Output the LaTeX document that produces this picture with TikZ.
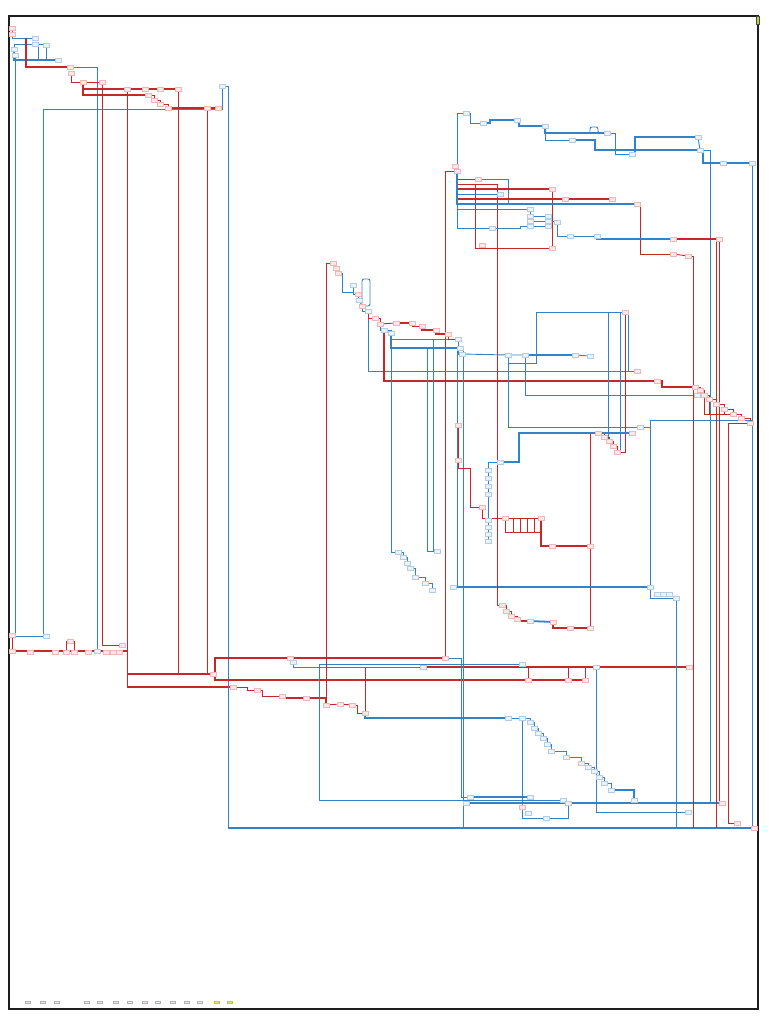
\documentclass[tikz,border=0pt]{standalone}
\usetikzlibrary{backgrounds}
\definecolor{cgred}{HTML}{C62828}
\definecolor{cgblue}{HTML}{3282C8}
\definecolor{cgpink}{HTML}{FBE8E8}
\definecolor{cgpinkd}{HTML}{EDB8B8}
\definecolor{cgsky}{HTML}{EAF2FA}
\definecolor{cgskyd}{HTML}{B3CDE8}
\definecolor{cgframe}{HTML}{1E1E1E}
\definecolor{cgflag}{HTML}{B5D334}
\definecolor{cgyellow}{HTML}{F2E66B}
\tikzset{
  rn/.style={draw=cgpinkd,fill=cgpink,line width=0.3pt,minimum width=6pt,
             minimum height=4pt,inner sep=0pt},
  bn/.style={draw=cgskyd,fill=cgsky,line width=0.3pt,minimum width=6pt,
             minimum height=4pt,inner sep=0pt},
  rl/.style={draw=cgred,line width=0.9pt},
  rlt/.style={rl,line width=1.8pt},
  bl/.style={draw=cgblue,line width=0.9pt},
  blt/.style={bl,line width=1.8pt},
  legbox/.style={draw=black!30,line width=0.2pt,minimum width=5pt,
                 minimum height=2.5pt,inner sep=0pt},
}
\begin{document}
\begin{tikzpicture}[x=1pt,y=-1pt]
  \useasboundingbox (0,0) rectangle (768,1024);
  \draw[cgframe,line width=1.3pt] (9,16) rectangle (758,1009);
  \node[draw=black!70,fill=cgflag,minimum width=3pt,minimum height=8pt,
        inner sep=0pt] (flag) at (758,20) {};

  % top-left cluster
  \node[rn] (tl1) at (12,28) {};
  \node[rn] (tl2) at (12,34) {};
  \node[bn] (tl3) at (35,38) {};
  \node[bn] (tl4) at (35,44) {};
  \node[bn] (tl5) at (46,45) {};
  \node[bn] (tl6) at (58,60) {};
  \node[bn] (tl7) at (14,49) {};
  \node[bn] (tl8) at (15,55) {};
  \node[rn] (tl9) at (70,67) {};
  \node[rn] (tl10) at (71,73) {};
  \node[rn] (tl11) at (83,82) {};
  \node[rn] (tl12) at (102,82) {};
  \node[rn] (tl13) at (127,89) {};
  \node[rn] (tl14) at (178,89) {};
  \node[rn] (tl15) at (148,95) {};
  \node[rn] (tl16) at (154,100) {};
  \node[rn] (tl17) at (160,104) {};
  \node[rn] (tl18) at (168,108) {};
  \node[rn] (tl19) at (207,108) {};
  \node[rn] (tl20) at (218,108) {};
  \node[bn] (tl21) at (222,86) {};
  \node[rn] (tl22) at (145,89) {};
  \node[rn] (tl23) at (160,89) {};
  \coordinate (tlr) at (26,38);
  \coordinate (tlc) at (43,109);
  \coordinate (tlx) at (228,86);

  % bottom-left end of the left columns
  \node[rn] (bl1) at (12,635) {};
  \node[bn] (blB) at (46,636) {};
  \node[rn] (blC) at (12,651) {};
  \node[bn] (blD) at (97,651) {};
  \node[rn] (bl7) at (122,645) {};
  \node[rn] (blF) at (70,641) {};
  \foreach \bx [count=\i] in {30,55,66,74,88,106,113,119}
    \node[rn] (bz-\i) at (\bx,652) {};

  % lower band
  \node[rn] (rA) at (233,687) {};
  \node[rn] (rB) at (213,674) {};
  \node[rn] (rD) at (290,658) {};
  \node[rn] (rE) at (445,658) {};
  \node[rn] (rF) at (528,680) {};
  \node[rn] (rG) at (568,680) {};
  \node[rn] (rH) at (585,680) {};
  \node[rn] (rI) at (423,667) {};
  \node[rn] (rJ) at (689,667) {};
  \node[rn] (rK) at (365,713) {};
  \node[rn] (rs1) at (257,690) {};
  \node[rn] (rs2) at (282,696) {};
  \node[rn] (rs3) at (306,698) {};
  \node[rn] (lcA) at (326,705) {};
  \node[rn] (ls1) at (340,704) {};
  \node[rn] (ls2) at (352,705) {};
  \node[bn] (bE) at (522,664) {};
  \node[bn] (bF) at (563,800) {};
  \node[bn] (bG) at (293,662) {};
  \node[bn] (bL) at (470,797) {};
  \node[bn] (bM) at (530,797) {};
  \node[bn] (bN) at (466,803) {};
  \node[rn] (bP) at (722,803) {};
  \node[rn] (bD) at (754,828) {};
  \node[bn] (bQ) at (596,667) {};
  \node[bn] (bR) at (688,812) {};
  \foreach \x/\y [count=\i] in {508/718,522/718,530/722,534/728,538/733,
      543/738,547/744,551/751,566/757,581/763,588/767,594/771,599/777,
      604/783,611/790,634/800}
    \node[bn] (ms-\i) at (\x,\y) {};
  \node[rn] (bc1) at (522,807) {};
  \node[bn] (bc2) at (528,813) {};
  \node[bn] (bc3) at (546,818) {};
  \node[bn] (bc4) at (568,803) {};

  % middle cluster
  \node[rn] (mc0) at (333,263) {};
  \node[rn] (m1) at (336,268) {};
  \node[rn] (m2) at (338,273) {};
  \node[bn] (m3) at (353,285) {};
  \node[rn] (m4) at (358,294) {};
  \node[bn] (m5) at (359,300) {};
  \node[rn] (m6) at (362,306) {};
  \node[bn] (m7) at (368,311) {};
  \node[rn] (m8) at (375,318) {};
  \node[rn] (m9) at (380,324) {};
  \node[bn] (m10) at (384,330) {};
  \node[bn] (m11) at (391,333) {};
  \node[rn] (mt1) at (396,323) {};
  \node[rn] (mt2) at (412,323) {};
  \node[rn] (mt3) at (422,326) {};
  \node[rn] (mt4) at (436,330) {};
  \node[rn] (mt5) at (448,334) {};
  \node[bn] (mt6) at (458,339) {};
  \node[bn] (mu1) at (460,348) {};
  \node[bn] (mv1) at (462,354) {};
  \node[bn] (mv2) at (508,355) {};
  \node[bn] (mv3) at (525,355) {};
  \node[bn] (mv4) at (575,355) {};
  \node[bn] (mv5) at (590,356) {};
  \node[rn] (mr0) at (657,381) {};
  \node[rn] (mrA) at (695,387) {};
  \node[rn] (mrB) at (637,371) {};
  \node[rn] (mrF) at (625,312) {};
  \node[bn] (mrH) at (697,395) {};
  \node[bn] (mrM) at (640,427) {};
  \foreach \x/\y [count=\i] in {598/433,604/437,609/441,613/446,617/452}
    \node[rn] (rt-\i) at (\x,\y) {};
  \coordinate (j1) at (427,348);
  \coordinate (j2) at (433,339);
  \coordinate (j3) at (457,348);
  \coordinate (j5) at (463,348);
  \coordinate (j6) at (508,363);
  \coordinate (j7) at (608,313);
  \coordinate (j8) at (620,313);

  % lower middle
  \node[bn] (lcB) at (398,552) {};
  \foreach \x/\y [count=\i] in {403/557,407/563,410/568,415/577,425/583,432/590}
    \node[bn] (lb-\i) at (\x,\y) {};
  \node[bn] (lcX) at (437,551) {};
  \node[bn] (lcO) at (453,587) {};
  \node[bn] (lcP) at (650,587) {};
  \node[bn] (lcQ) at (676,598) {};
  \foreach \x [count=\i] in {657,663,669}
    \node[bn] (lq-\i) at (\x,594) {};
  \node[bn] (lcD) at (500,462) {};
  \node[rn] (lcE) at (632,433) {};
  \node[rn] (lcF) at (458,425) {};
  \node[rn] (lcG) at (458,460) {};
  \node[rn] (lcH) at (482,507) {};
  \foreach \y [count=\i] in {470,478,486,494,520,527,534,541}
    \node[bn] (li-\i) at (488,\y) {};
  \node[rn] (lcK) at (505,518) {};
  \node[rn] (lcL) at (541,518) {};
  \node[rn] (lcS) at (552,546) {};
  \node[rn] (lcT) at (590,546) {};
  \coordinate (lcz) at (541,532);
  \node[rn] (lcR) at (502,605) {};
  \node[rn] (lr-1) at (506,611) {};
  \node[rn] (lr-2) at (511,616) {};
  \node[rn] (lr-3) at (517,619) {};
  \node[bn] (lr-4) at (530,621) {};
  \node[rn] (lr-5) at (553,622) {};
  \node[rn] (lr-6) at (570,628) {};
  \node[rn] (lcM) at (590,628) {};

  % top-right cluster
  \node[bn] (rc0) at (466,113) {};
  \node[bn] (rc1) at (483,123) {};
  \node[bn] (rc2) at (517,120) {};
  \node[bn] (rc3) at (545,126) {};
  \node[bn] (rc4) at (572,140) {};
  \node[bn] (rc5) at (607,133) {};
  \node[bn] (rc6) at (632,154) {};
  \node[bn] (rc7) at (698,137) {};
  \node[bn] (rc8) at (700,150) {};
  \node[bn] (rc9) at (752,163) {};
  \node[bn] (rc10) at (723,163) {};
  \node[rn] (rcA) at (457,171) {};
  \node[rn] (rcA2) at (455,166) {};
  \node[rn] (rcC) at (478,179) {};
  \node[rn] (rcE) at (552,248) {};
  \node[rn] (rcW) at (482,245) {};
  \node[rn] (rcF) at (552,189) {};
  \node[bn] (rcG) at (500,194) {};
  \node[rn] (rcH) at (565,199) {};
  \node[rn] (rcI) at (612,199) {};
  \node[rn] (rcJ) at (637,204) {};
  \node[bn] (rcK) at (530,209) {};
  \node[bn] (rcB) at (492,228) {};
  \node[rn] (rcM) at (673,254) {};
  \node[rn] (rcN) at (688,256) {};
  \node[rn] (rcO) at (719,239) {};
  \node[rn] (rcP) at (673,239) {};
  \node[bn] (rcT) at (557,222) {};
  \node[bn] (rcU) at (570,236) {};
  \node[bn] (rcV) at (597,236) {};
  \foreach \y [count=\i] in {216,221,226} {
    \node[bn] (rcq-\i) at (530,\y) {};
    \node[bn] (rcs-\i) at (548,\y) {};
  }
  \coordinate (j9) at (508,204);
  \coordinate (j10) at (497,184);
  \coordinate (rcz) at (693,256);
  \coordinate (rco2) at (716,239);
  \coordinate (rrA) at (752,420);

  % right staircase
  \foreach \x/\y [count=\i] in {700/390,704/395,709/399,716/404,724/409,
      733/414,741/418,750/423}
    \node[rn] (rr-\i) at (\x,\y) {};
  \node[rn] (rr9) at (737,823) {};

  % legend
  \foreach \lx/\lc [count=\i] in {28/cgpink,43/cgsky,57/cgpink,87/cgpink,
      100/cgsky,116/cgpink,130/cgsky,145/cgpink,158/cgsky,173/cgpink,
      187/cgsky,200/cgsky,217/cgyellow,230/cgyellow}
    \node[legbox,fill=\lc] (leg-\i) at (\lx,1002) {};

  \begin{scope}[on background layer]
    % top-left
    \draw[bl] (tl1) -- (tl2);
    \draw[bl] (tl2) |- (tl3);
    \draw[bl] (tl7) |- (tl4);
    \draw[bl] (tl4) -- (tl5);
    \draw[bl] (tl5) |- (tl6);
    \draw[bl] (tl4) -- ++(3,0) |- (tl6);
    \draw[blt] (tl7) |- (tl6);
    \draw[rlt] (tl9) -| (tlr);
    \draw[bl] (tl9) -| (blD);
    \draw[rl] (tl10) |- (tl11);
    \draw[rl] (tl11) -- (tl12);
    \draw[rlt] (tl11) |- (tl14);
    \draw[rlt] (tl11) |- (tl15);
    \draw[rl] (tl15) -| (tl16);
    \draw[rl] (tl16) -| (tl17);
    \draw[rl] (tl17) -| (tl18);
    \draw[rlt] (tl18) -- (tl20);
    \draw[rl] (tl12) |- (bl7);
    \draw[rl] (tl13) -- (tl13 |- rA);
    \draw[rlt] (tl13 |- rA) -- (rA);
    \draw[rl] (tl14) |- (rB);
    \draw[rl] (tl19) -- (tl19 |- rB);
    \draw[rlt] (rB) -- (rB -| tl13);
    \draw[bl] (blB) -| (tlc) -| (tl21);
    \draw[bl] (tl21) -- (tlx) -- (tlx |- bD);
    \draw[blt] (tlx |- bD) -- (bD);
    \draw[bl] (tl8) |- (blB);
    \draw[rlt] (blC) -- (blC -| tl13);
    \draw[rl] (bz-3) |- (blF);
    \draw[rl] (bz-4) |- (blF);
    \draw[rl] (bl1) -- (blC);

    % lower band
    \draw[rlt] (rE) -| ++(-230,22) -- (rH);
    \draw[rl] (rcA) -| (rE);
    \draw[rl] (rA) -- ++(14,0) |- (rs1);
    \draw[rl] (rs1) -- ++(5,0) |- (rs2);
    \draw[rlt] (rs2) |- (rs3);
    \draw[rlt] (rs3) -| (lcA);
    \draw[rl] (lcA) -- (ls1) -- (ls2);
    \draw[rl] (ls2) -- ++(5,0) |- (rK);
    \draw[rl] (rI) -| (rK);
    \draw[rlt] (rI) -- (rJ);
    \draw[rl] (rF) -- (rF |- rI);
    \draw[rl] (rG) -- (rG |- rI);
    \draw[rl] (rH) -- (rH |- rI);
    \draw[bl] (bE) -| ++(-203,136) -- (bF);
    \draw[bl] (rD) |- (bG);
    \draw[bl] (bG) |- (rI);
    \draw[bl] (rE) -- ++(16,0) |- (bL);
    \draw[blt] (bL) -- (bM);
    \draw[blt] (bN) -- (bP);
    \draw[blt] (rK) |- (ms-1);
    \draw[bl] (bQ) |- (bR);
    \foreach \i [count=\j from 2] in {1,...,14}
      \draw[bl] (ms-\i) -| (ms-\j);
    \draw[blt] (ms-15) -| (ms-16);
    \draw[bl] (ms-2) |- (bc3);
    \draw[bl] (bc3) -| (bc4);

    % middle cluster
    \draw[rl] (mc0) -| (lcA);
    \draw[rl] (mc0) -- (m1) -- (m2);
    \draw[bl] (m2) -| ++(4,19) -| (m3);
    \draw[bl] (m3) |- (m4);
    \draw[bl] (m4) -- (m5) -- (m6);
    \draw[bl,rounded corners=2pt] (m6) -| ++(8,-27) -| (m6);
    \draw[bl] (m6) |- (m7);
    \draw[bl] (m7) |- (mrB);
    \draw[rl] (m7) |- (m8);
    \draw[rl] (m8) -| (m9);
    \draw[rl] (m9) -- (mt1);
    \draw[bl] (m9) |- (m10);
    \draw[bl] (m10) -| (m11);
    \draw[rlt] (m10) |- (mr0);
    \draw[rlt] (mr0) -- ++(5,0) |- (mrA);
    \draw[bl] (m11) |- (lcB);
    \draw[blt] (m11) |- (mu1);
    \draw[bl] (m11) |- (mt6);
    \draw[rlt] (mt1) -- (mt2);
    \draw[rl] (mt2) |- (mt3);
    \draw[rlt] (mt3) |- (mt4);
    \draw[rlt] (mt4) |- (mt5);
    \draw[rl] (mt5) |- (mt6);
    \draw[bl] (mt6) |- (mv1);
    \draw[bl] (mv1) -- (mv2) -- (mv3);
    \draw[blt] (mv3) -- (mv4);
    \draw[bl] (mv4) -- (mv5);
    \draw[bl] (mv2) |- (mrM);
    \draw[bl] (mv3) |- (mrH);
    \draw[bl] (j6) -- ++(28,0) |- (mrF);
    \draw[bl] (mrF) -- ++(3,0) |- (mrB);
    \draw[rl] (mrF) |- (rt-5);
    \draw[bl] (j7) -- (j7 |- rt-3);
    \draw[bl] (j8) -- (j8 |- rt-5);
    \foreach \i [count=\j from 2] in {1,...,4}
      \draw[rl] (rt-\i) -| (rt-\j);
    \draw[rl] (rt-1) -| (lcM);
    \draw[bl] (j1) |- (lcX);
    \draw[bl] (j2) |- (lcX);
    \draw[bl] (j3) |- (lcO);
    \draw[bl] (j5) -- (j5 |- bD);
    \draw[blt] (lcO) -- (lcP);
    \draw[bl] (lcP) |- (rrA);
    \draw[bl] (lcP) |- (lcQ);
    \draw[bl] (lcQ) -- (lcQ |- bD);
    \draw[bl] (mrM) -- (mrM -| lcP);

    % lower middle
    \draw[bl] (lcB) -| (lb-1);
    \foreach \i [count=\j from 2] in {1,...,5}
      \draw[bl] (lb-\i) -| (lb-\j);
    \draw[blt] (lcD) -- ++(19,0) |- (lcE);
    \draw[rl] (lcF) -- (lcG);
    \draw[rl] (lcG) |- ++(12,8) |- (lcH);
    \draw[bl] (lcD) -| (li-1);
    \foreach \i [count=\j from 2] in {1,...,7}
      \draw[bl] (li-\i) -- (li-\j);
    \draw[rl] (lcH) |- (lcK);
    \draw[rl] (lcK) -- (lcL);
    \draw[rl] (lcK) |- (lcz) -- (lcL);
    \foreach \cx in {513,520,527,534}
      \draw[rl] (\cx,518) -- (\cx,532);
    \draw[rlt] (lcL) |- (lcT);
    \draw[rl] (j10) |- (lcR);
    \draw[rl] (lcR) -| (lr-1);
    \draw[rl] (lr-1) -| (lr-2);
    \draw[rl] (lr-2) -| (lr-3);
    \draw[rlt] (lr-3) |- (lr-4);
    \draw[blt] (lr-4) -- (lr-5);
    \draw[rlt] (lr-5) |- (lr-6);
    \draw[rlt] (lr-6) -- (lcM);

    % top-right cluster
    \draw[bl] (rc0) -| (rcA);
    \draw[bl] (rc0) -- ++(4,0) |- (rc1);
    \draw[blt] (rc1) -- ++(7,0) |- (rc2);
    \draw[blt] (rc2) -- ++(2,0) |- (rc3);
    \draw[blt] (rc3) |- (rc5);
    \draw[bl] (rc3) |- (rc4);
    \draw[bl,rounded corners=2pt] (rc5) -| ++(-9,-6) -| ++(-8,6);
    \draw[blt] (rc4) -- ++(23,0) |- (rc8);
    \draw[bl] (rc5) -- ++(8,0) |- (rc6);
    \draw[blt] (rc6) -- ++(3,0) |- (rc7);
    \draw[bl] (rc7) -- (rc8);
    \draw[blt] (rc8) -- ++(3,0) |- (rc9);
    \draw[bl] (rc8) -- ++(10,0) |- (bP);
    \draw[bl] (rc9) |- (bD);
    \draw[rl] (rcA2) -| (rcA);
    \draw[rl] (rcA) |- (rcC);
    \draw[bl] (rcC) -| (j9);
    \draw[rl] (rcA) |- (j10);
    \draw[rl] (rcA) |- ++(18,13) |- (rcE);
    \draw[rlt] (rcA) |- (rcF);
    \draw[rl] (rcF) -- (rcE);
    \draw[bl] (rcA) |- (rcG);
    \draw[rlt] (rcA) |- (rcH);
    \draw[rlt] (rcH) -- (rcI);
    \draw[blt] (rcA) |- (rcJ);
    \draw[bl] (rcA) |- (rcK);
    \draw[bl] (rcA) |- (rcB);
    \draw[bl] (rcB) -- ++(28,0) |- (rcq-3);
    \draw[bl] (rcK) -- (rcq-1) -- (rcq-2) -- (rcq-3);
    \foreach \i in {1,2,3}
      \draw[bl] (rcq-\i) -- (rcs-\i);
    \draw[rl] (rcJ) -| ++(3,50) -- (rcM);
    \draw[rl] (rcM) -- (rcN);
    \draw[rl] (rcN) -- (rcz) -- (rcz |- bD);
    \draw[bl] (rcs-2) -| (rcT);
    \draw[bl] (rcT) |- (rcV);
    \draw[blt] (rcV) |- (rcP);
    \draw[rlt] (rcP) -- (rcO);
    \draw[rl] (rcO) |- (bP);
    \draw[rl] (rcO) -- (rco2) -- (rco2 |- bD);

    % right staircase
    \draw[rl] (mrA) -| (rr-1);
    \draw[bl] (mrH) -- (rr-2);
    \foreach \i [count=\j from 2] in {1,...,7}
      \draw[rl] (rr-\i) -| (rr-\j);
    \draw[rl] (rr-2) |- (rr-6);
    \foreach \i in {3,4,5}
      \draw[rl] (rr-\i) -- (rr-\i |- rr-6);
    \draw[rl] (rr-8) -- ++(-22,0) |- (rr9);
  \end{scope}
\end{tikzpicture}
\end{document}
